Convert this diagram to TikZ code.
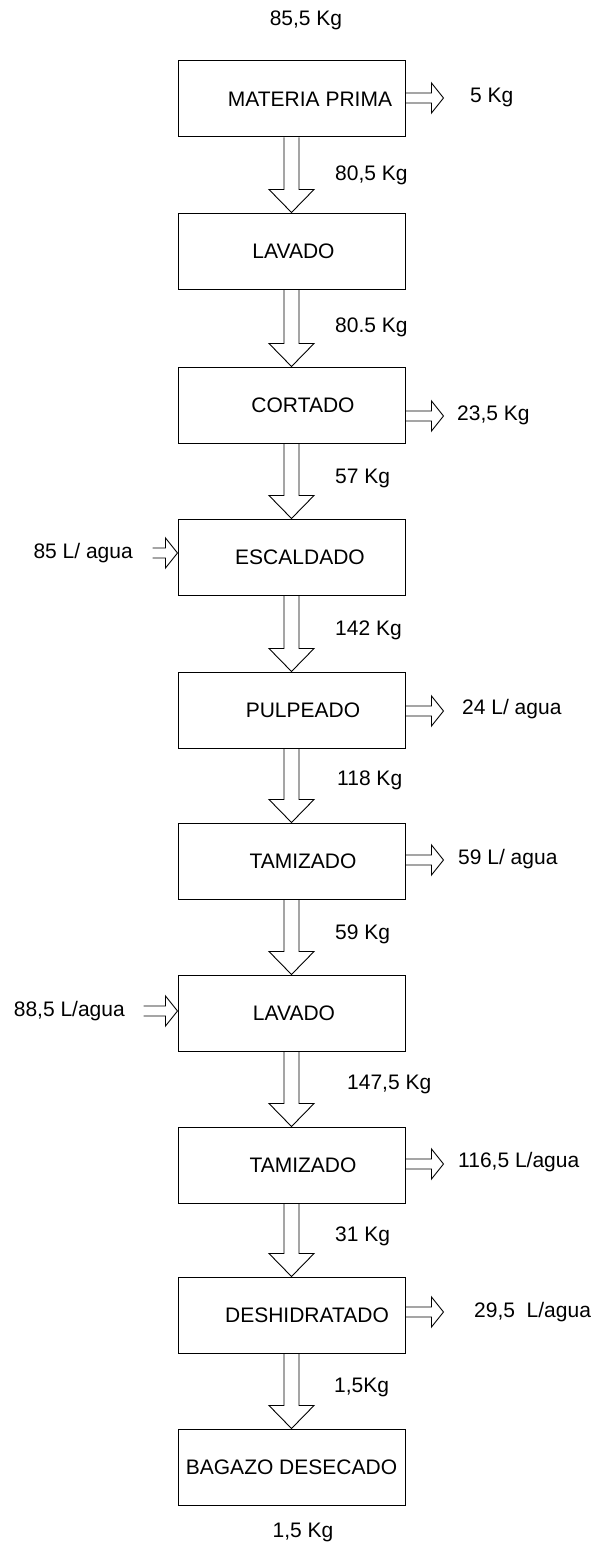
\documentclass[tikz,border=0pt]{standalone}
\usepackage{fontspec}
\setmainfont{Liberation Sans}
\usetikzlibrary{calc}

\tikzset{
  caja/.style={draw, line width=1pt, minimum width=227pt, minimum height=76pt, inner sep=0pt},
  flecha/.style={draw, line width=0.9pt, line join=miter},
  dato/.style={inner sep=0pt}
}

% flecha hueca vertical entre dos cajas
\newcommand{\bajada}[2]{%
  \draw[flecha] let \p1=(#1.south), \p2=(#2.north) in
    (\x1-7.5pt,\y1) -- (\x1-7.5pt,\y2+23pt) -- (\x1-22.5pt,\y2+23pt) -- (\x1,\y2)
    -- (\x1+22.5pt,\y2+23pt) -- (\x1+7.5pt,\y2+23pt) -- (\x1+7.5pt,\y1);}

% flecha hueca horizontal (hacia la derecha)
\newcommand{\lateral}[2]{%
  \draw[flecha] let \p1=(#1), \p2=(#2) in
    (\x1,\y1+5pt) -- (\x2-12pt,\y1+5pt) -- (\x2-12pt,\y1+15pt) -- (\x2,\y1)
    -- (\x2-12pt,\y1-15pt) -- (\x2-12pt,\y1-5pt) -- (\x1,\y1-5pt);}

\begin{document}
\begin{tikzpicture}[x=1pt, y=1pt, font=\fontsize{21}{25}\selectfont]
  \useasboundingbox (0,0) rectangle (597,-1544);

  % cajas del proceso
  \node[caja] (mp)   at (291.5,-99)   {\hspace*{37pt}MATERIA PRIMA};
  \node[caja] (lav1) at (291.5,-251)  {\hspace*{4pt}LAVADO};
  \node[caja] (cor)  at (291.5,-405)  {\hspace*{23pt}CORTADO};
  \node[caja] (esc)  at (291.5,-557)  {\hspace*{17pt}ESCALDADO};
  \node[caja] (pul)  at (291.5,-710)  {\hspace*{23pt}PULPEADO};
  \node[caja] (tam1) at (291.5,-861)  {\hspace*{23pt}TAMIZADO};
  \node[caja] (lav2) at (291.5,-1013) {\hspace*{5pt}LAVADO};
  \node[caja] (tam2) at (291.5,-1165) {\hspace*{23pt}TAMIZADO};
  \node[caja] (des)  at (291.5,-1315) {\hspace*{31pt}DESHIDRATADO};
  \node[caja] (bag)  at (291.5,-1467) {BAGAZO DESECADO};

  % flujo principal
  \bajada{mp}{lav1}
  \bajada{lav1}{cor}
  \bajada{cor}{esc}
  \bajada{esc}{pul}
  \bajada{pul}{tam1}
  \bajada{tam1}{lav2}
  \bajada{lav2}{tam2}
  \bajada{tam2}{des}
  \bajada{des}{bag}

  % salidas y entradas laterales
  \lateral{$(mp.east)+(0,1)$}{$(mp.east)+(38,1)$}
  \lateral{$(cor.east)+(0,-11)$}{$(cor.east)+(38,-11)$}
  \lateral{$(esc.west)+(-25,4)$}{esc.west}
  \lateral{$(pul.east)+(0,-1)$}{$(pul.east)+(38,-1)$}
  \lateral{$(tam1.east)+(0,1)$}{$(tam1.east)+(38,1)$}
  \lateral{$(lav2.west)+(-34,2)$}{lav2.west}
  \lateral{$(tam2.east)+(0,1)$}{$(tam2.east)+(38,1)$}
  \lateral{$(des.east)+(0,3)$}{$(des.east)+(38,3)$}

  % cantidades
  \node[dato] (t0) at (306,-20) {85,5 Kg};
  \node[dato, anchor=west] (s1) at (470,-97) {5 Kg};
  \node[dato, anchor=west] (s3) at (457,-415) {23,5 Kg};
  \node[dato, anchor=east] (e4) at (133,-553) {85 L/ agua};
  \node[dato, anchor=west] (s5) at (462,-709) {24 L/ agua};
  \node[dato, anchor=west] (s6) at (458,-859) {59 L/ agua};
  \node[dato, anchor=east] (e7) at (125,-1011) {88,5 L/agua};
  \node[dato, anchor=west] (s8) at (458,-1162) {116,5 L/agua};
  \node[dato, anchor=west] (s9) at (474,-1312) {29,5\ \ L/agua};

  \node[dato, anchor=west] (f1) at (335,-175)  {80,5 Kg};
  \node[dato, anchor=west] (f2) at (335,-327)  {80.5 Kg};
  \node[dato, anchor=west] (f3) at (335,-478)  {57 Kg};
  \node[dato, anchor=west] (f4) at (335,-630)  {142 Kg};
  \node[dato, anchor=west] (f5) at (337,-780)  {118 Kg};
  \node[dato, anchor=west] (f6) at (335,-934)  {59 Kg};
  \node[dato, anchor=west] (f7) at (347,-1084) {147,5 Kg};
  \node[dato, anchor=west] (f8) at (335,-1236) {31 Kg};
  \node[dato, anchor=west] (f9) at (334,-1387) {1,5Kg};
  \node[dato] (t10) at (303,-1532) {1,5 Kg};
\end{tikzpicture}
\end{document}
